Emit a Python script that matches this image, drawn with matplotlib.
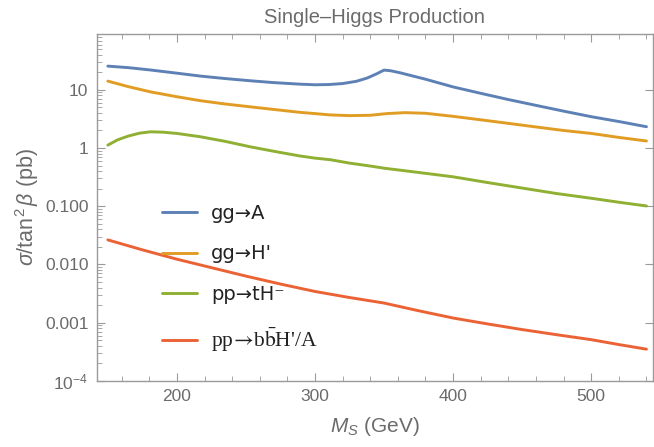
import matplotlib
matplotlib.use("Agg")
import matplotlib.pyplot as plt
from matplotlib.ticker import FixedLocator, FixedFormatter, LogLocator, NullFormatter, MultipleLocator

plt.rcParams['font.family'] = ['Liberation Sans', 'DejaVu Sans']
plt.rcParams['mathtext.fontset'] = 'custom'
plt.rcParams['mathtext.rm'] = 'Liberation Sans'
plt.rcParams['mathtext.it'] = 'Liberation Sans:italic'
plt.rcParams['mathtext.bf'] = 'Liberation Sans:bold'

# ---- data ----
m_blue = [150, 165, 180, 200, 217, 235, 253, 270, 289, 300, 310, 320, 330, 338, 345, 350, 355, 362, 380, 400, 420, 440, 460, 480, 500, 520, 540]
gg_A   = [25.5, 24.0, 22.0, 19.3, 17.2, 15.6, 14.3, 13.3, 12.5, 12.2, 12.3, 12.8, 14.0, 16.0, 19.0, 21.8, 21.2, 19.5, 15.2, 11.2, 8.7, 6.8, 5.4, 4.3, 3.45, 2.85, 2.32]

m_orange = [150, 165, 181, 200, 217, 235, 253, 270, 289, 300, 311, 325, 340, 352, 365, 380, 400, 420, 440, 460, 480, 500, 520, 540]
gg_H     = [14.1, 11.3, 9.2, 7.6, 6.5, 5.7, 5.1, 4.6, 4.1, 3.9, 3.7, 3.6, 3.65, 3.9, 4.05, 3.95, 3.5, 3.05, 2.65, 2.3, 2.0, 1.78, 1.52, 1.32]

m_green = [150, 157, 165, 173, 181, 190, 200, 217, 235, 253, 270, 289, 300, 311, 325, 340, 350, 375, 400, 425, 450, 475, 500, 520, 540]
pp_tH   = [1.12, 1.38, 1.61, 1.8, 1.9, 1.87, 1.78, 1.56, 1.3, 1.05, 0.88, 0.73, 0.67, 0.63, 0.55, 0.49, 0.45, 0.38, 0.32, 0.255, 0.205, 0.165, 0.137, 0.117, 0.101]

m_red  = [150, 175, 200, 225, 250, 275, 300, 325, 350, 375, 400, 425, 450, 475, 500, 520, 540]
pp_bbH = [0.0264, 0.0178, 0.0123, 0.0088, 0.0063, 0.0046, 0.00343, 0.0027, 0.00217, 0.0016, 0.0012, 0.00095, 0.00076, 0.00062, 0.00051, 0.00042, 0.00035]

labels = ["gg\u2192A", "gg\u2192H'", "pp\u2192tH\u207b",
          r"pp$\!\rightarrow\!$b$\bar{\mathrm{b}}$H'/A"]
colors = ["#5E81B5", "#E19C24", "#8FB032", "#EB6235"]

ytick_vals = [1e-4, 1e-3, 1e-2, 1e-1, 1, 10]
ytick_labels = [r"$10^{-4}$", "0.001", "0.010", "0.100", "1", "10"]
xtick_vals = [200, 300, 400, 500]

title = "Single\u2013Higgs Production"
xlabel = r"$M_S$ (GeV)"
ylabel = r"$\sigma$/tan$^2\,\beta$ (pb)"

# ---- figure ----
gray_txt = "#6b6b6b"
gray_axis = "#9a9a9a"

fig = plt.figure(figsize=(6.54, 4.47), dpi=100)
ax = fig.add_axes([0.148, 0.148, 0.850, 0.776])

series = [(m_blue, gg_A), (m_orange, gg_H), (m_green, pp_tH), (m_red, pp_bbH)]
for (x, y), c, lab in zip(series, colors, labels):
    ax.plot(x, y, color=c, lw=2.1, label=lab, solid_capstyle='round')

ax.set_yscale('log')
ax.set_xlim(142, 544.5)
ax.set_ylim(1e-4, 91)

ax.yaxis.set_major_locator(FixedLocator(ytick_vals))
ax.yaxis.set_major_formatter(FixedFormatter(ytick_labels))
ax.yaxis.set_minor_locator(LogLocator(base=10, subs=range(2, 10), numticks=20))
ax.yaxis.set_minor_formatter(NullFormatter())
ax.xaxis.set_major_locator(FixedLocator(xtick_vals))
ax.xaxis.set_minor_locator(MultipleLocator(20))

for s in ax.spines.values():
    s.set_color(gray_axis)
    s.set_linewidth(1.0)

ax.tick_params(axis='both', which='major', direction='in', length=6, width=0.8,
               color=gray_axis, labelcolor=gray_txt, labelsize=12.5, pad=6)
ax.tick_params(axis='both', which='minor', direction='in', length=3.5, width=0.6,
               color=gray_axis)
ax.tick_params(axis='x', which='both', top=True)
ax.tick_params(axis='y', which='major', right=True)
ax.tick_params(axis='y', which='minor', right=False)

ax.set_title(title, color=gray_txt, fontsize=14.5, pad=8)
ax.set_xlabel(xlabel, color=gray_txt, fontsize=15, labelpad=8)
ax.set_ylabel(ylabel, color=gray_txt, fontsize=15.5, labelpad=3)

leg = ax.legend(loc='upper left', bbox_to_anchor=(0.118, 0.51), frameon=False,
                fontsize=14, handlelength=1.8, handletextpad=0.7,
                labelspacing=1.1, borderpad=0, borderaxespad=0)
for i, t in enumerate(leg.get_texts()):
    t.set_color("#222222")
    if i < 3:
        t.set_fontfamily(['DejaVu Sans'])
t = leg.get_texts()[3]
t.set_fontfamily(['Liberation Serif', 'DejaVu Serif'])
t.set_math_fontfamily('stix')
t.set_fontsize(15.5)

fig.savefig("out.png", dpi=100)
